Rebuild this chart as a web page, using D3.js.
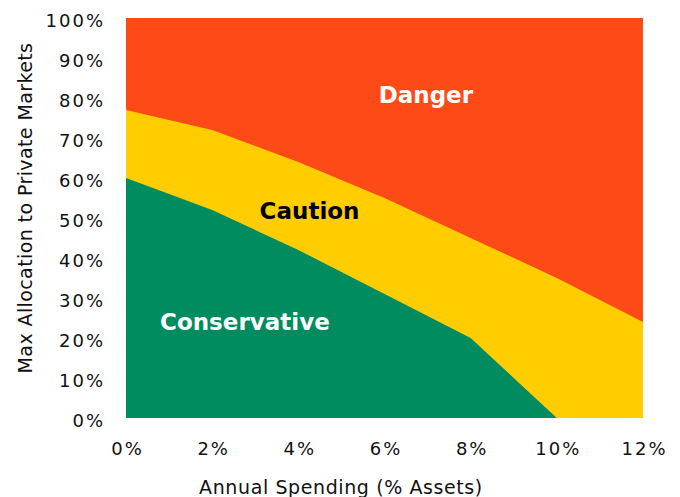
<!DOCTYPE html>
<html>
<head>
<meta charset="utf-8">
<script src="https://cdn.jsdelivr.net/npm/d3@7"></script>
<style>
  body { margin: 0; background: #fff; }
  svg { display: block; font-family: "DejaVu Sans", "Noto Sans", sans-serif; }
</style>
</head>
<body>
<svg id="chart" width="680" height="497"></svg>
<script>
// Annual spending (% of assets)
const spending = [0, 2, 4, 6, 8, 10, 12];
// Upper edge of the conservative zone
const conservativeTop = [60, 52, 42, 31, 20, 0, 0];
// Upper edge of the caution zone
const cautionTop = [77, 72, 64, 55, 45, 35, 24];
const xTicks = [0, 2, 4, 6, 8, 10, 12];
const yTicks = [0, 10, 20, 30, 40, 50, 60, 70, 80, 90, 100];

const colors = { danger: '#FE4A16', caution: '#FFCD00', conservative: '#008C5E' };

const svg = d3.select('#chart');
const margin = { left: 126, right: 37, top: 18, bottom: 79 };
const width = 680 - margin.left - margin.right;
const height = 497 - margin.top - margin.bottom;

const g = svg.append('g').attr('transform', `translate(${margin.left},${margin.top})`);

const x = d3.scaleLinear().domain([0, 12]).range([0, width]);
const y = d3.scaleLinear().domain([0, 100]).range([height, 0]);

const rows = spending.map((s, i) => ({ s, lo: conservativeTop[i], hi: cautionTop[i] }));

// danger zone (everything up to 100%)
g.append('path')
    .datum(rows)
    .attr('fill', colors.danger)
    .attr('d', d3.area().x(d => x(d.s)).y0(y(0)).y1(y(100)));

g.append('path')
    .datum(rows)
    .attr('fill', colors.caution)
    .attr('d', d3.area().x(d => x(d.s)).y0(y(0)).y1(d => y(d.hi)));

g.append('path')
    .datum(rows)
    .attr('fill', colors.conservative)
    .attr('d', d3.area().x(d => x(d.s)).y0(y(0)).y1(d => y(d.lo)));

// axes
const xAxis = g.append('g')
    .attr('transform', `translate(0,${height})`)
    .call(d3.axisBottom(x).tickValues(xTicks).tickSize(0).tickPadding(24).tickFormat(d => d + '%'));
const yAxis = g.append('g')
    .call(d3.axisLeft(y).tickValues(yTicks).tickSize(0).tickPadding(21).tickFormat(d => d + '%'));

[xAxis, yAxis].forEach(a => {
    a.select('.domain').remove();
    a.selectAll('text')
        .attr('fill', '#111')
        .style('font-size', '18px')
        .style('letter-spacing', '2px')
        .style('font-family', '"DejaVu Sans", sans-serif');
});
yAxis.selectAll('text').attr('dy', '0.45em');
xAxis.selectAll('text').attr('dx', '1px');

// axis titles
svg.append('text')
    .attr('x', 341)
    .attr('y', 494)
    .attr('text-anchor', 'middle')
    .attr('fill', '#111')
    .style('font-size', '19px')
    .style('letter-spacing', '0.6px')
    .text('Annual Spending (% Assets)');

svg.append('text')
    .attr('transform', 'translate(31.5,208) rotate(-90)')
    .attr('text-anchor', 'middle')
    .attr('fill', '#111')
    .style('font-size', '19px')
    .style('letter-spacing', '0.4px')
    .text('Max Allocation to Private Markets');

// zone labels
const labels = [
    { text: 'Danger', s: 6.96, v: 78.7, fill: '#fff' },
    { text: 'Caution', s: 4.26, v: 49.75, fill: '#000' },
    { text: 'Conservative', s: 2.76, v: 22, fill: '#fff' }
];
g.selectAll('.zone')
    .data(labels)
    .join('text')
    .attr('class', 'zone')
    .attr('x', d => x(d.s))
    .attr('y', d => y(d.v))
    .attr('text-anchor', 'middle')
    .attr('fill', d => d.fill)
    .style('font-size', '23px')
    .style('font-weight', 'bold')
    .text(d => d.text);
</script>
</body>
</html>
